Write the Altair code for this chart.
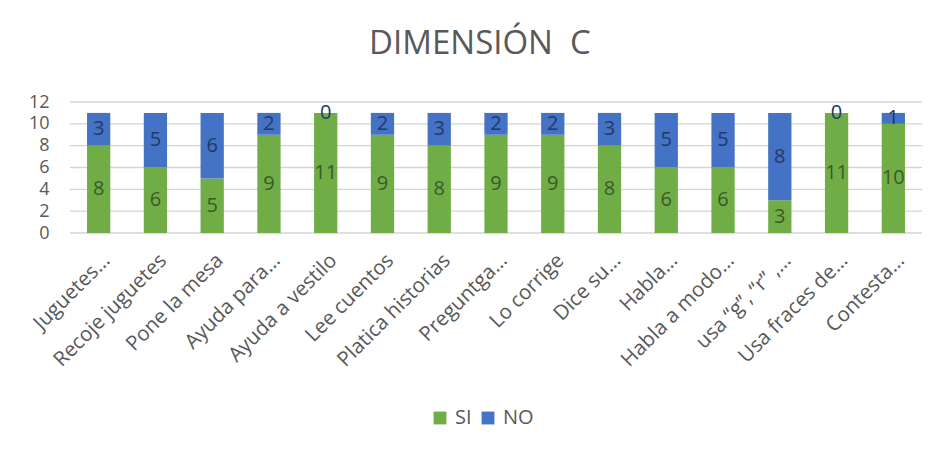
import altair as alt
import pandas as pd

categories = ["Juguetes…", "Recoje juguetes", "Pone la mesa", "Ayuda para…",
              "Ayuda a vestilo", "Lee cuentos", "Platica historias", "Preguntga…",
              "Lo corrige", "Dice su…", "Habla…", "Habla a modo…",
              "usa “g”, “r” ,…", "Usa fraces de…", "Contesta…"]
si_values = [8, 6, 5, 9, 11, 9, 8, 9, 9, 8, 6, 6, 3, 11, 10]
no_values = [3, 5, 6, 2, 0, 2, 3, 2, 2, 3, 5, 5, 8, 0, 1]
series = ["SI", "NO"]
y_ticks = [0, 2, 4, 6, 8, 10, 12]

rows = []
for i, c in enumerate(categories):
    rows.append({"cat": c, "serie": "SI", "ord": 0, "value": si_values[i]})
    rows.append({"cat": c, "serie": "NO", "ord": 1, "value": no_values[i]})
df = pd.DataFrame(rows)

FONT = "Open Sans"
GRAY = "#595959"

base = alt.Chart(df).transform_stack(
    stack="value", groupby=["cat"], as_=["y0", "y1"],
    sort=[alt.SortField("ord", order="ascending")]
).transform_calculate(
    mid="(datum.y0 + datum.y1) / 2",
    tc="datum.serie == 'SI' ? '#3b5a26' : '#22396a'"
)

yscale = alt.Scale(domain=[0, 12], nice=False)
xscale = alt.Scale(paddingInner=0.59, paddingOuter=0.3)

yaxis = alt.Axis(values=y_ticks, labelFont=FONT, labelFontSize=18,
                 labelColor=GRAY, ticks=False, domain=False, grid=False,
                 labelPadding=21, labelOverlap=False, title=None)
xaxis = alt.Axis(labelAngle=-45, labelAlign="right", labelBaseline="middle",
                 labelFont=FONT, labelFontSize=20.5, labelColor=GRAY,
                 labelOffset=8, labelPadding=24, ticks=False,
                 domain=False, grid=False, title=None,
                 labelOverlap=False, labelBound=False)

# gridlines at the tick values, through the y scale
grid_df = pd.DataFrame({"tick": y_ticks})
grid = alt.Chart(grid_df).mark_rule(color="#d4d4d4", strokeWidth=1.3).encode(
    y=alt.Y("tick:Q", scale=yscale, axis=yaxis),
)

bars = base.mark_bar().encode(
    x=alt.X("cat:N", sort=categories, scale=xscale, axis=xaxis),
    y=alt.Y("y0:Q", scale=yscale, axis=yaxis),
    y2="y1:Q",
    color=alt.Color("serie:N", sort=series,
                    scale=alt.Scale(domain=series, range=["#70AD47", "#4472C4"]),
                    legend=alt.Legend(title=None, orient="none", legendX=360, legendY=306,
                                      direction="horizontal", symbolType="square",
                                      symbolSize=165, symbolStrokeWidth=0,
                                      labelFont=FONT, labelFontSize=20, labelColor=GRAY,
                                      labelOffset=5, columnPadding=6)),
)

labels = base.mark_text(font=FONT, fontSize=20, baseline="middle", align="center").encode(
    x=alt.X("cat:N", sort=categories, scale=xscale, axis=xaxis),
    y=alt.Y("mid:Q", scale=yscale, axis=yaxis),
    text=alt.Text("value:Q"),
    color=alt.Color("tc:N", scale=None),
)

chart = alt.layer(grid, bars, labels).properties(
    width=852, height=131,
    autosize=alt.AutoSizeParams(type="none"),
    padding={"left": 62, "top": 94, "right": 8, "bottom": 212},
    title=alt.TitleParams("DIMENSIÓN\u00a0\u00a0C", font=FONT, fontSize=33, fontWeight="normal",
                          color=GRAY, anchor="middle", dx=-16, offset=6,
                          baseline="alphabetic"),
).configure(background="white").configure_view(stroke=None)

chart.save("out.html", embed_options={"renderer": "svg", "actions": False})
